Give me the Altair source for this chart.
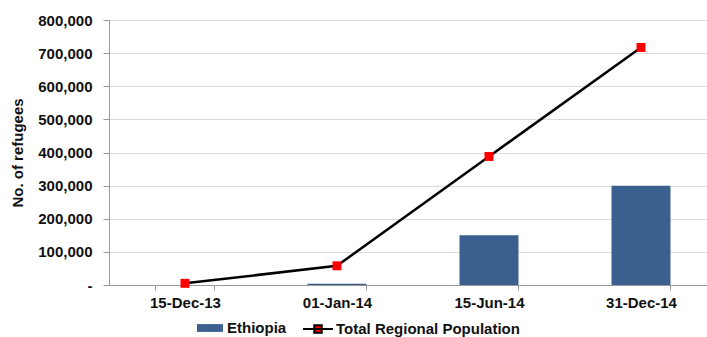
import altair as alt
import pandas as pd

dates = ["15-Dec-13", "01-Jan-14", "15-Jun-14", "31-Dec-14"]
ethiopia = [0, 3500, 150000, 300000]
total = [5000, 58000, 388000, 717000]
y_ticks = [0, 100000, 200000, 300000, 400000, 500000, 600000, 700000, 800000]

n = len(dates)
df = pd.DataFrame({
    "date": dates + dates,
    "value": ethiopia + total,
    "series": ["Ethiopia"] * n + ["Total Regional Population"] * n,
})

FONT = "Liberation Sans"
BLUE = "#3b5f8e"

x = alt.X(
    "date:N",
    sort=dates,
    scale=alt.Scale(paddingInner=0.612, paddingOuter=0.273, align=0.56),
    axis=alt.Axis(
        title=None, labelAngle=0, labelFont=FONT, labelFontWeight="bold",
        labelFontSize=15, labelColor="#111", labelPadding=5,
        tickBand="extent", tickColor="#999", tickSize=5, domainColor="#999",
        grid=False,
    ),
)

y = alt.Y(
    "value:Q",
    scale=alt.Scale(domain=[0, 800000], nice=False),
    axis=alt.Axis(
        title="No. of refugees", titleFont=FONT, titleFontWeight="bold",
        titleFontSize=15, titleColor="#111", titlePadding=12,
        labelFont=FONT, labelFontWeight="bold", labelFontSize=15,
        labelColor="#111", values=y_ticks,
        labelExpr="datum.value == 0 ? '-\u00a0\u00a0\u00a0' : format(datum.value, ',')",
        labelOverlap=False,
        tickColor="#999", tickSize=6, domainColor="#999",
        gridColor="#dcdcdc", labelPadding=11,
    ),
)

base = alt.Chart(df).encode(x=x, y=y)

bars = base.transform_filter(alt.datum.series == "Ethiopia").mark_bar(color=BLUE).encode(
    color=alt.Color(
        "series:N",
        scale=alt.Scale(domain=["Ethiopia"], range=[BLUE]),
        legend=alt.Legend(
            title=None, orient="none", legendX=88, legendY=295,
            symbolType="M-1,-0.3H1V0.3H-1Z", symbolSize=676,
            symbolStrokeWidth=0, labelFont=FONT, labelFontWeight="bold",
            labelFontSize=15, labelColor="#111", labelOffset=4,
        ),
    ),
)

tot = base.transform_filter(alt.datum.series == "Total Regional Population")

line = tot.mark_line(color="black", strokeWidth=2.5)

points = tot.mark_point(shape="square", filled=True, size=80, opacity=1).encode(
    fill=alt.Fill(
        "series:N",
        scale=alt.Scale(domain=["Total Regional Population"], range=["#ff0000"]),
        legend=alt.Legend(
            title=None, orient="none", legendX=193, legendY=293,
            symbolType="M-1,0H1M-0.25,-0.25H0.25V0.25H-0.25Z", symbolSize=900,
            symbolStrokeColor="black", symbolStrokeWidth=2,
            labelFont=FONT, labelFontWeight="bold", labelLimit=400,
            labelFontSize=15, labelColor="#111", labelOffset=2,
        ),
    ),
)

chart = (
    alt.layer(bars, line, points)
    .properties(
        width=598, height=265,
        autosize=alt.AutoSizeParams(type="none"),
        padding={"left": 109, "top": 20, "right": 0, "bottom": 52},
    )
    .configure_view(stroke=None)
    .configure(background="white")
)

chart.save("out.html", embed_options={"renderer": "svg", "actions": False})
